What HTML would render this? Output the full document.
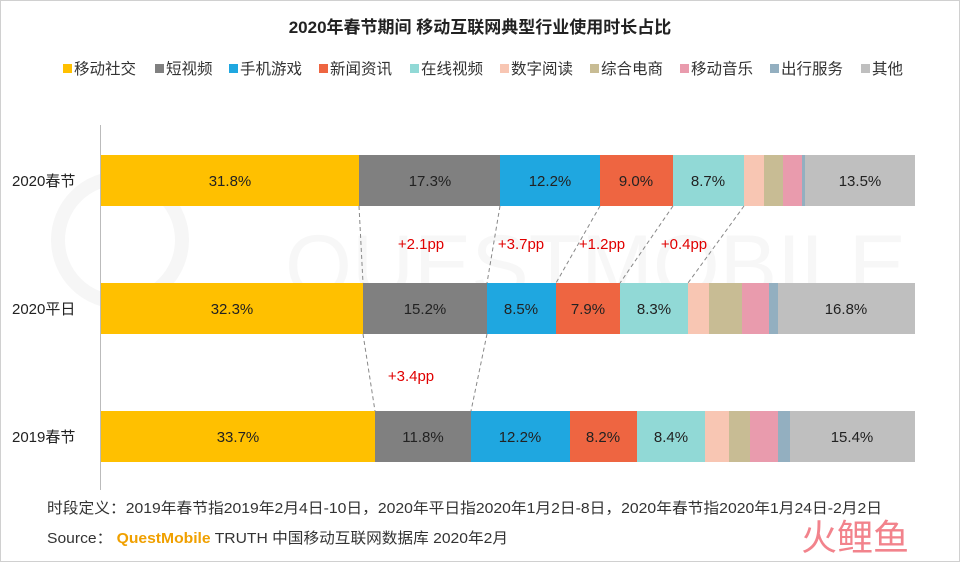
<!DOCTYPE html>
<html><head><meta charset="utf-8"><style>
body{margin:0;width:960px;height:562px;background:#fff;font-family:"Liberation Sans","Noto Sans CJK SC",sans-serif;overflow:hidden}
</style></head><body>
<svg width="960" height="562" xmlns="http://www.w3.org/2000/svg" font-family="Liberation Sans, Noto Sans CJK SC, sans-serif">
<rect x="0.5" y="0.5" width="959" height="561" fill="#fff" stroke="#d0d0d0"/>
<circle cx="120" cy="240" r="62" fill="none" stroke="#f6f6f6" stroke-width="14"/>
<text x="285" y="295" font-size="86" fill="#f7f7f7">QUESTMOBILE</text>
<text x="480" y="33" font-size="17" font-weight="bold" fill="#222" text-anchor="middle">2020年春节期间 移动互联网典型行业使用时长占比</text>
<g font-size="15.5" fill="#333">
<rect x="63" y="64" width="9" height="9" fill="#FFC000"/><text x="74" y="74">移动社交</text>
<rect x="155" y="64" width="9" height="9" fill="#808080"/><text x="166" y="74">短视频</text>
<rect x="229" y="64" width="9" height="9" fill="#1FA7E0"/><text x="240" y="74">手机游戏</text>
<rect x="319" y="64" width="9" height="9" fill="#EE6541"/><text x="330" y="74">新闻资讯</text>
<rect x="410" y="64" width="9" height="9" fill="#91D9D6"/><text x="421" y="74">在线视频</text>
<rect x="500" y="64" width="9" height="9" fill="#F8C6B3"/><text x="511" y="74">数字阅读</text>
<rect x="590" y="64" width="9" height="9" fill="#C8BC94"/><text x="601" y="74">综合电商</text>
<rect x="680" y="64" width="9" height="9" fill="#E99BAD"/><text x="691" y="74">移动音乐</text>
<rect x="770" y="64" width="9" height="9" fill="#93AFC0"/><text x="781" y="74">出行服务</text>
<rect x="861" y="64" width="9" height="9" fill="#BFBFBF"/><text x="872" y="74">其他</text>
</g>
<line x1="100.5" y1="125" x2="100.5" y2="490" stroke="#bbb"/>
<g font-size="15" fill="#222">
<text x="12" y="186">2020春节</text><text x="12" y="314">2020平日</text><text x="12" y="442">2019春节</text>
</g>
<g>
<rect x="101" y="155" width="258" height="51" fill="#FFC000"/>
<rect x="359" y="155" width="141" height="51" fill="#808080"/>
<rect x="500" y="155" width="100" height="51" fill="#1FA7E0"/>
<rect x="600" y="155" width="73" height="51" fill="#EE6541"/>
<rect x="673" y="155" width="71" height="51" fill="#91D9D6"/>
<rect x="744" y="155" width="20" height="51" fill="#F8C6B3"/>
<rect x="764" y="155" width="19" height="51" fill="#C8BC94"/>
<rect x="783" y="155" width="19" height="51" fill="#E99BAD"/>
<rect x="802" y="155" width="3" height="51" fill="#93AFC0"/>
<rect x="805" y="155" width="110" height="51" fill="#BFBFBF"/>
<rect x="101" y="283" width="262" height="51" fill="#FFC000"/>
<rect x="363" y="283" width="124" height="51" fill="#808080"/>
<rect x="487" y="283" width="69" height="51" fill="#1FA7E0"/>
<rect x="556" y="283" width="64" height="51" fill="#EE6541"/>
<rect x="620" y="283" width="68" height="51" fill="#91D9D6"/>
<rect x="688" y="283" width="21" height="51" fill="#F8C6B3"/>
<rect x="709" y="283" width="33" height="51" fill="#C8BC94"/>
<rect x="742" y="283" width="27" height="51" fill="#E99BAD"/>
<rect x="769" y="283" width="9" height="51" fill="#93AFC0"/>
<rect x="778" y="283" width="137" height="51" fill="#BFBFBF"/>
<rect x="101" y="411" width="274" height="51" fill="#FFC000"/>
<rect x="375" y="411" width="96" height="51" fill="#808080"/>
<rect x="471" y="411" width="99" height="51" fill="#1FA7E0"/>
<rect x="570" y="411" width="67" height="51" fill="#EE6541"/>
<rect x="637" y="411" width="68" height="51" fill="#91D9D6"/>
<rect x="705" y="411" width="24" height="51" fill="#F8C6B3"/>
<rect x="729" y="411" width="21" height="51" fill="#C8BC94"/>
<rect x="750" y="411" width="28" height="51" fill="#E99BAD"/>
<rect x="778" y="411" width="12" height="51" fill="#93AFC0"/>
<rect x="790" y="411" width="125" height="51" fill="#BFBFBF"/>
</g>
<g font-size="15" fill="#222" text-anchor="middle">
<text x="230" y="186">31.8%</text><text x="430" y="186">17.3%</text><text x="550" y="186">12.2%</text><text x="636" y="186">9.0%</text><text x="708" y="186">8.7%</text><text x="860" y="186">13.5%</text>
<text x="232" y="314">32.3%</text><text x="425" y="314">15.2%</text><text x="521" y="314">8.5%</text><text x="588" y="314">7.9%</text><text x="654" y="314">8.3%</text><text x="846" y="314">16.8%</text>
<text x="238" y="442">33.7%</text><text x="423" y="442">11.8%</text><text x="520" y="442">12.2%</text><text x="603" y="442">8.2%</text><text x="671" y="442">8.4%</text><text x="852" y="442">15.4%</text>
</g>
<g stroke="#888" stroke-dasharray="4,3" stroke-width="1">
<line x1="359" y1="206" x2="363" y2="283"/><line x1="500" y1="206" x2="487" y2="283"/>
<line x1="600" y1="206" x2="556" y2="283"/><line x1="673" y1="206" x2="620" y2="283"/>
<line x1="744" y1="206" x2="688" y2="283"/>
<line x1="363" y1="334" x2="375" y2="411"/><line x1="487" y1="334" x2="471" y2="411"/>
</g>
<g font-size="15" fill="#E00000" text-anchor="middle">
<text x="421" y="249">+2.1pp</text><text x="521" y="249">+3.7pp</text><text x="602" y="249">+1.2pp</text><text x="684" y="249">+0.4pp</text><text x="411" y="381">+3.4pp</text>
</g>
<text x="47" y="513" font-size="15" fill="#333" textLength="835" lengthAdjust="spacingAndGlyphs">时段定义：2019年春节指2019年2月4日-10日，2020年平日指2020年1月2日-8日，2020年春节指2020年1月24日-2月2日</text>
<text x="47" y="543" font-size="15" fill="#333" textLength="461" lengthAdjust="spacingAndGlyphs">Source：  <tspan fill="#F0A000" font-weight="bold">QuestMobile</tspan> TRUTH 中国移动互联网数据库 2020年2月</text>
<text x="855" y="550" font-size="36" fill="#EE5A66" text-anchor="middle" opacity="0.75">火鲤鱼</text>
</svg>
</body></html>
